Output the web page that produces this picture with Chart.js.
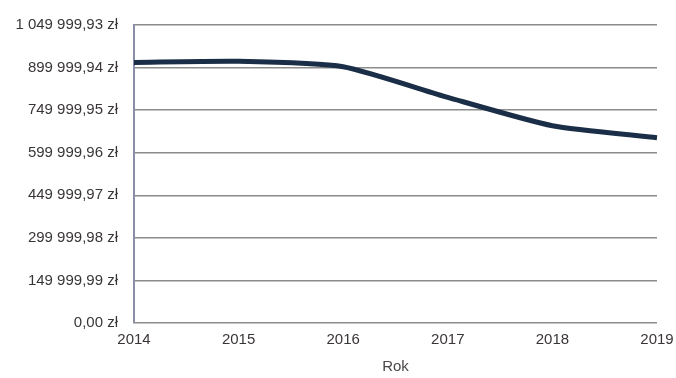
<!DOCTYPE html>
<html>
<head>
<meta charset="utf-8">
<script src="https://cdn.jsdelivr.net/npm/chart.js@4"></script>
<style>
  html, body { margin: 0; padding: 0; background: #fff; }
  #wrap { width: 676px; height: 378px; }
</style>
</head>
<body>
<div id="wrap"><canvas id="lineChart"></canvas></div>
<script>
const years = ['2014', '2015', '2016', '2017', '2018', '2019'];
const values = [918000, 922000, 903000, 795000, 695000, 653000];
const yTicks = [0, 149999.99, 299999.98, 449999.97, 599999.96, 749999.95, 899999.94, 1049999.93];

// 1 049 999,93 zł
function formatZl(v) {
  const parts = v.toFixed(2).split('.');
  const intPart = parts[0].replace(/\B(?=(\d{3})+(?!\d))/g, ' ');
  return intPart + ',' + parts[1] + ' zł';
}

Chart.defaults.font.family = '"Liberation Sans", Arial, sans-serif';
Chart.defaults.font.size = 15;
Chart.defaults.color = '#3a3636';

const ctx = document.getElementById('lineChart');

new Chart(ctx, {
  type: 'line',
  data: {
    labels: years,
    datasets: [{
      data: values,
      borderColor: '#1b2e47',
      borderWidth: 5,
      pointRadius: 0,
      tension: 0.2,
      fill: false
    }]
  },
  options: {
    responsive: true,
    maintainAspectRatio: false,
    animation: false,
    layout: {
      padding: { top: 25, right: 19, bottom: 0, left: 0 }
    },
    plugins: {
      legend: { display: false },
      tooltip: { enabled: false }
    },
    scales: {
      x: {
        offset: false,
        grid: { display: false, drawTicks: false },
        border: { display: false },
        ticks: { padding: 8, maxRotation: 0, color: '#3a3636' },
        title: {
          display: true,
          text: 'Rok',
          color: '#4a4646',
          padding: { top: 4, bottom: 2 }
        },
        afterFit: function (scale) {
          scale.height = 55;
          scale.paddingLeft = 0;
          scale.paddingRight = 0;
        }
      },
      y: {
        min: 0,
        max: 1049999.93,
        afterBuildTicks: function (scale) {
          scale.ticks = yTicks.map(v => ({ value: v }));
        },
        grid: { color: '#8c8c8c', lineWidth: 1.5, drawTicks: false },
        border: { display: true, color: '#8a8ea6', width: 2 },
        ticks: {
          padding: 16,
          callback: function (v) { return formatZl(v); }
        },
        afterFit: function (scale) { scale.width = 134; }
      }
    }
  }
});
</script>
</body>
</html>
